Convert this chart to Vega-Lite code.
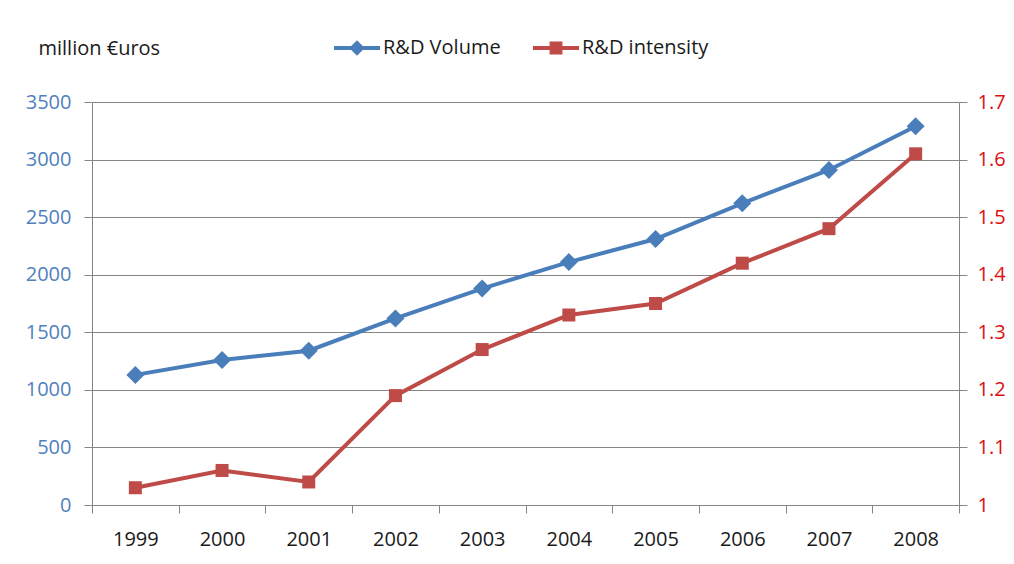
{
  "$schema": "https://vega.github.io/schema/vega-lite/v6.json",
  "width": 867,
  "height": 403,
  "autosize": {"type": "none"},
  "padding": {"left": 92, "top": 102, "right": 55, "bottom": 59},
  "background": "white",
  "config": {
    "font": "Open Sans",
    "view": {"stroke": null},
    "axis": {"labelFont": "Open Sans", "labelFontSize": 20, "domainColor": "#868686", "tickColor": "#868686", "gridColor": "#868686", "tickSize": 8}
  },
  "data": {
    "values": [
      {"year": "1999", "series": "R&D Volume", "value": 1130},
      {"year": "2000", "series": "R&D Volume", "value": 1260},
      {"year": "2001", "series": "R&D Volume", "value": 1340},
      {"year": "2002", "series": "R&D Volume", "value": 1620},
      {"year": "2003", "series": "R&D Volume", "value": 1880},
      {"year": "2004", "series": "R&D Volume", "value": 2110},
      {"year": "2005", "series": "R&D Volume", "value": 2310},
      {"year": "2006", "series": "R&D Volume", "value": 2620},
      {"year": "2007", "series": "R&D Volume", "value": 2910},
      {"year": "2008", "series": "R&D Volume", "value": 3290},
      {"year": "1999", "series": "R&D intensity", "value": 1.03},
      {"year": "2000", "series": "R&D intensity", "value": 1.06},
      {"year": "2001", "series": "R&D intensity", "value": 1.04},
      {"year": "2002", "series": "R&D intensity", "value": 1.19},
      {"year": "2003", "series": "R&D intensity", "value": 1.27},
      {"year": "2004", "series": "R&D intensity", "value": 1.33},
      {"year": "2005", "series": "R&D intensity", "value": 1.35},
      {"year": "2006", "series": "R&D intensity", "value": 1.42},
      {"year": "2007", "series": "R&D intensity", "value": 1.48},
      {"year": "2008", "series": "R&D intensity", "value": 1.61}
    ]
  },
  "encoding": {
    "x": {
      "field": "year", "type": "ordinal", "bandPosition": 0.5,
      "scale": {"type": "band", "paddingInner": 0, "paddingOuter": 0},
      "axis": {"title": null, "labelAngle": 0, "tickBand": "extent", "grid": false, "labelColor": "#1a1a1a", "labelPadding": 16, "domainColor": "#868686"}
    }
  },
  "layer": [
    {
      "transform": [{"filter": "datum.series === 'R&D Volume'"}],
      "mark": {"type": "line", "color": "#4A7EBB", "strokeWidth": 4, "point": {"shape": "diamond", "size": 324, "filled": true, "color": "#4A7EBB", "opacity": 1}},
      "encoding": {
        "y": {
          "field": "value", "type": "quantitative",
          "scale": {"domain": [0, 3500], "nice": false, "zero": true},
          "axis": {
            "orient": "left", "values": [0, 500, 1000, 1500, 2000, 2500, 3000, 3500], "grid": true,
            "labelColor": "#4F81BD", "labelPadding": 13, "format": "d",
            "title": "million €uros", "titleAngle": 0, "titleX": -54, "titleY": -54, "titleAlign": "left", "titleBaseline": "middle",
            "titleFont": "Open Sans", "titleFontSize": 20, "titleFontWeight": "normal", "titleColor": "#1a1a1a"
          }
        }
      }
    },
    {
      "transform": [{"filter": "datum.series === 'R&D intensity'"}],
      "mark": {"type": "line", "color": "#BE4B48", "strokeWidth": 4, "point": {"shape": "square", "size": 169, "filled": true, "color": "#BE4B48", "opacity": 1}},
      "encoding": {
        "y": {
          "field": "value", "type": "quantitative",
          "scale": {"domain": [1, 1.7], "nice": false, "zero": false},
          "axis": {
            "orient": "right", "values": [1, 1.1, 1.2, 1.3, 1.4, 1.5, 1.6, 1.7], "grid": false,
            "labelColor": "#DD1010", "labelPadding": 10, "format": ".1~f", "title": null
          }
        }
      }
    },
    {
      "mark": {"type": "point", "filled": true, "opacity": 0},
      "encoding": {
        "x": {"value": 0},
        "y": {"value": 0},
        "color": {
          "field": "series", "type": "nominal",
          "scale": {"domain": ["R&D Volume", "R&D intensity"], "range": ["#4A7EBB", "#BE4B48"]},
          "legend": {
            "title": null, "orient": "none", "legendX": 242, "legendY": -77, "direction": "horizontal",
            "symbolSize": 2116, "symbolOpacity": 1, "symbolStrokeWidth": 0, "labelOffset": 3, "columnPadding": 32,
            "labelFont": "Open Sans", "labelFontSize": 20, "labelColor": "#1a1a1a", "labelLimit": 300,
            "encode": {"symbols": {"update": {"opacity": {"value": 1}, "fillOpacity": {"value": 1}}}}
          }
        },
        "shape": {
          "field": "series", "type": "nominal",
          "scale": {"domain": ["R&D Volume", "R&D intensity"], "range": ["M-1,-0.09H1V0.09H-1Z M0,-0.34L0.34,0L0,0.34L-0.34,0Z", "M-1,-0.09H1V0.09H-1Z M-0.28,-0.28H0.28V0.28H-0.28Z"]}
        }
      }
    }
  ],
  "resolve": {"scale": {"y": "independent"}}
}
